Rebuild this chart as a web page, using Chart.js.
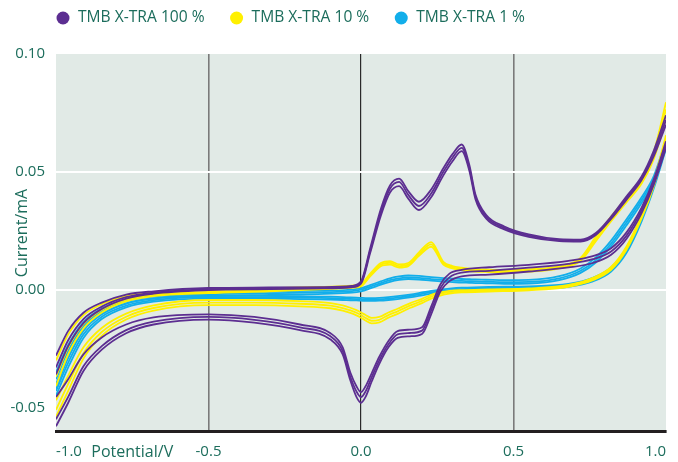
<!DOCTYPE html>
<html>
<head>
<meta charset="utf-8">
<script src="https://cdn.jsdelivr.net/npm/chart.js@4.4.1/dist/chart.umd.min.js"></script>
<style>
  html, body { margin: 0; padding: 0; background: #ffffff; }
  #wrap { width: 678px; height: 462px; }
</style>
</head>
<body>
<div id="wrap"><canvas id="cv" width="678" height="462"></canvas></div>
<script>
// ================= DATA =================
const seriesNames = ["TMB X-TRA 100 %", "TMB X-TRA 10 %", "TMB X-TRA 1 %"];
const seriesColors = ["#5c2e91", "#fff000", "#12aeea"];

const xTicks = [-1.0, -0.5, 0.0, 0.5, 1.0];
const yTicks = [-0.05, 0.0, 0.05, 0.10];

// potential (V) for the forward / anodic branch and the return / cathodic branch
const potentialUp = [-1.0, -0.96, -0.91, -0.85, -0.77, -0.68, -0.5, -0.3, -0.12, -0.03,
  0.0, 0.03, 0.065, 0.095, 0.125, 0.155, 0.19, 0.23, 0.27, 0.3,
  0.33, 0.355, 0.375, 0.41, 0.47, 0.55, 0.65, 0.72, 0.77, 0.82,
  0.87, 0.92, 0.96, 1.0];
const potentialDown = [-1.0, -0.96, -0.91, -0.85, -0.77, -0.68, -0.5, -0.35, -0.2, -0.1,
  -0.06, -0.035, -0.015, 0.0, 0.015, 0.035, 0.06, 0.09, 0.12, 0.16,
  0.2, 0.23, 0.26, 0.29, 0.33, 0.42, 0.55, 0.68, 0.76, 0.82,
  0.87, 0.92, 0.96, 1.0];

// current (mA), three cycles each
const tmb100Up = [
  [-0.028, -0.0175, -0.0098, -0.0055, -0.0021, -0.0007, 0.0007, 0.0009, 0.0011, 0.0016,
   0.0035, 0.0175, 0.0342, 0.0442, 0.0471, 0.0418, 0.0373, 0.0425, 0.0515, 0.0575,
   0.0616, 0.0530, 0.0405, 0.0318, 0.0268, 0.0234, 0.0214, 0.0212, 0.0240, 0.0310,
   0.0395, 0.0480, 0.0590, 0.0740],
  [-0.033, -0.0215, -0.0125, -0.0072, -0.0032, -0.0013, 0.0002, 0.0005, 0.0008, 0.0013,
   0.0030, 0.0165, 0.0328, 0.0428, 0.0457, 0.0402, 0.0355, 0.0408, 0.0500, 0.0560,
   0.0602, 0.0518, 0.0395, 0.0310, 0.0262, 0.0229, 0.0210, 0.0208, 0.0236, 0.0305,
   0.0388, 0.0472, 0.0578, 0.0720],
  [-0.036, -0.0240, -0.0142, -0.0082, -0.0038, -0.0017, -0.0002, 0.0002, 0.0005, 0.0010,
   0.0025, 0.0155, 0.0314, 0.0412, 0.0439, 0.0386, 0.0338, 0.0392, 0.0485, 0.0545,
   0.0588, 0.0506, 0.0385, 0.0302, 0.0256, 0.0224, 0.0206, 0.0204, 0.0232, 0.0300,
   0.0381, 0.0465, 0.0566, 0.0700]
];
const tmb100Down = [
  [-0.0456, -0.038, -0.0275, -0.0203, -0.0148, -0.0118, -0.0105, -0.0116, -0.0148, -0.0185,
   -0.0245, -0.0352, -0.041, -0.0435, -0.041, -0.0355, -0.0285, -0.0218, -0.0176, -0.0170,
   -0.0160, -0.0072, 0.0022, 0.0068, 0.0084, 0.0095, 0.0105, 0.0122, 0.0142, 0.0176,
   0.0242, 0.0348, 0.0468, 0.0630],
  [-0.055, -0.0455, -0.0325, -0.0240, -0.0172, -0.0136, -0.0116, -0.0128, -0.0160, -0.0198,
   -0.0260, -0.0370, -0.0432, -0.0456, -0.0432, -0.0372, -0.0300, -0.0232, -0.0190, -0.0184,
   -0.0174, -0.0088, 0.0006, 0.0052, 0.0072, 0.0080, 0.0093, 0.0109, 0.0129, 0.0162,
   0.0228, 0.0336, 0.0455, 0.0615],
  [-0.058, -0.048, -0.0345, -0.0255, -0.0185, -0.0148, -0.0127, -0.0140, -0.0172, -0.0212,
   -0.0275, -0.0385, -0.0455, -0.0480, -0.0455, -0.0390, -0.0315, -0.0245, -0.0205, -0.0198,
   -0.0188, -0.0105, -0.0008, 0.0036, 0.0056, 0.0064, 0.0077, 0.0094, 0.0113, 0.0148,
   0.0215, 0.0325, 0.0445, 0.0600]
];
const tmb10Up = [
  [-0.030, -0.019, -0.0108, -0.0062, -0.0028, -0.0012, -0.0002, 0.0006, 0.0012, 0.0017,
   0.0024, 0.0068, 0.0113, 0.0121, 0.0107, 0.0113, 0.0158, 0.0202, 0.0118, 0.0100,
   0.0093, 0.0089, 0.0087, 0.0085, 0.0083, 0.0086, 0.0100, 0.0135, 0.0225, 0.0310,
   0.0390, 0.0470, 0.0585, 0.0795],
  [-0.037, -0.0245, -0.0145, -0.0085, -0.0042, -0.0022, -0.0010, -0.0002, 0.0006, 0.0012,
   0.0019, 0.0062, 0.0106, 0.0114, 0.0100, 0.0106, 0.0150, 0.0192, 0.0112, 0.0095,
   0.0088, 0.0084, 0.0082, 0.0080, 0.0078, 0.0081, 0.0095, 0.0128, 0.0215, 0.0300,
   0.0380, 0.0460, 0.0570, 0.0765],
  [-0.041, -0.0275, -0.0165, -0.0097, -0.0050, -0.0028, -0.0015, -0.0007, 0.0002, 0.0008,
   0.0014, 0.0056, 0.0099, 0.0106, 0.0094, 0.0100, 0.0143, 0.0182, 0.0106, 0.0090,
   0.0083, 0.0079, 0.0077, 0.0075, 0.0073, 0.0076, 0.0090, 0.0122, 0.0206, 0.0290,
   0.0370, 0.0450, 0.0555, 0.0725]
];
const tmb10Down = [
  [-0.047, -0.0365, -0.0245, -0.0163, -0.0102, -0.0067, -0.0044, -0.0044, -0.0049, -0.0057,
   -0.0067, -0.0077, -0.0087, -0.0097, -0.0108, -0.0120, -0.0116, -0.0097, -0.0081, -0.0058,
   -0.0039, -0.0022, -0.0011, -0.0005, -0.0002, 0.0001, 0.0005, 0.0020, 0.0050, 0.0096,
   0.0182, 0.0318, 0.0460, 0.0655],
  [-0.051, -0.0400, -0.0270, -0.0180, -0.0115, -0.0078, -0.0055, -0.0055, -0.0060, -0.0068,
   -0.0078, -0.0088, -0.0098, -0.0108, -0.0120, -0.0132, -0.0128, -0.0108, -0.0092, -0.0068,
   -0.0048, -0.0030, -0.0018, -0.0011, -0.0007, -0.0004, 0.0001, 0.0016, 0.0045, 0.0090,
   0.0175, 0.0310, 0.0450, 0.0640],
  [-0.054, -0.0430, -0.0292, -0.0196, -0.0127, -0.0089, -0.0066, -0.0066, -0.0071, -0.0079,
   -0.0089, -0.0099, -0.0109, -0.0119, -0.0131, -0.0143, -0.0139, -0.0119, -0.0103, -0.0078,
   -0.0057, -0.0038, -0.0025, -0.0017, -0.0012, -0.0008, -0.0003, 0.0012, 0.0040, 0.0084,
   0.0168, 0.0302, 0.0440, 0.0625]
];
const tmb1Up = [
  [-0.035, -0.0235, -0.0138, -0.0080, -0.0042, -0.0023, -0.0013, -0.0008, -0.0004, 0.0000,
   0.0006, 0.0019, 0.0035, 0.0048, 0.0056, 0.0060, 0.0058, 0.0053, 0.0049, 0.0047,
   0.0045, 0.0044, 0.0043, 0.0042, 0.0040, 0.0041, 0.0057, 0.0090, 0.0137, 0.0208,
   0.0298, 0.0392, 0.0482, 0.0635],
  [-0.038, -0.0260, -0.0155, -0.0092, -0.0050, -0.0030, -0.0020, -0.0015, -0.0011, -0.0006,
   0.0000, 0.0012, 0.0028, 0.0040, 0.0048, 0.0052, 0.0050, 0.0045, 0.0041, 0.0039,
   0.0037, 0.0036, 0.0035, 0.0034, 0.0032, 0.0033, 0.0048, 0.0080, 0.0125, 0.0195,
   0.0285, 0.0380, 0.0470, 0.0620],
  [-0.042, -0.0290, -0.0175, -0.0105, -0.0058, -0.0037, -0.0027, -0.0022, -0.0018, -0.0013,
   -0.0007, 0.0005, 0.0021, 0.0033, 0.0041, 0.0045, 0.0043, 0.0038, 0.0034, 0.0032,
   0.0030, 0.0029, 0.0028, 0.0027, 0.0025, 0.0026, 0.0040, 0.0071, 0.0115, 0.0184,
   0.0272, 0.0368, 0.0458, 0.0605]
];
const tmb1Down = [
  [-0.040, -0.0285, -0.0172, -0.0103, -0.0059, -0.0038, -0.0026, -0.0026, -0.0028, -0.0030,
   -0.0032, -0.0033, -0.0034, -0.0035, -0.0036, -0.0036, -0.0035, -0.0032, -0.0028, -0.0021,
   -0.0012, -0.0005, 0.0000, 0.0004, 0.0008, 0.0012, 0.0014, 0.0024, 0.0050, 0.0094,
   0.0176, 0.0312, 0.0452, 0.0625],
  [-0.043, -0.0310, -0.0190, -0.0115, -0.0068, -0.0045, -0.0032, -0.0032, -0.0034, -0.0036,
   -0.0038, -0.0039, -0.0040, -0.0041, -0.0042, -0.0042, -0.0041, -0.0038, -0.0034, -0.0027,
   -0.0018, -0.0011, -0.0006, -0.0002, 0.0002, 0.0007, 0.0009, 0.0018, 0.0042, 0.0085,
   0.0165, 0.0300, 0.0440, 0.0610],
  [-0.045, -0.0330, -0.0205, -0.0125, -0.0075, -0.0051, -0.0038, -0.0038, -0.0040, -0.0042,
   -0.0044, -0.0045, -0.0046, -0.0047, -0.0048, -0.0048, -0.0047, -0.0044, -0.0040, -0.0033,
   -0.0024, -0.0017, -0.0011, -0.0007, -0.0003, 0.0002, 0.0004, 0.0012, 0.0035, 0.0077,
   0.0155, 0.0290, 0.0430, 0.0598]
];

// ================= STYLE =================
const TEXT = "#1c6d5c";
const FONT = '"Open Sans", sans-serif';

// ================= DATASETS =================
const seriesUp = [tmb100Up, tmb10Up, tmb1Up];
const seriesDown = [tmb100Down, tmb10Down, tmb1Down];
const datasets = [];

seriesNames.forEach((name, s) => {
  [[potentialUp, seriesUp[s]], [potentialDown, seriesDown[s]]].forEach(([pot, cycles]) => {
    cycles.forEach(cyc => {
      datasets.push({
        label: name,
        data: pot.map((v, i) => ({ x: v, y: cyc[i] })),
        borderColor: seriesColors[s],
        borderWidth: 1.8,
        pointRadius: 0,
        cubicInterpolationMode: "monotone",
        fill: false
      });
    });
  });
});

// ================= PLUGINS =================
const plotBg = {
  id: "plotBg",
  beforeDraw(chart) {
    const { ctx, chartArea: a } = chart;
    ctx.save();
    ctx.fillStyle = "#e1eae6";
    ctx.fillRect(a.left, a.top, a.right - a.left, a.bottom - a.top);
    ctx.restore();
  }
};

// legend dots + axis titles
const extraText = {
  id: "extraText",
  afterDraw(chart) {
    const ctx = chart.ctx;
    const xs = chart.scales.x;
    ctx.save();
    ctx.font = "15.6px " + FONT;
    ctx.textBaseline = "middle";
    ctx.textAlign = "left";
    let cx = 63;
    seriesNames.forEach((name, i) => {
      ctx.fillStyle = seriesColors[i];
      ctx.beginPath();
      ctx.arc(cx, 18, 6.5, 0, Math.PI * 2);
      ctx.fill();
      ctx.fillStyle = TEXT;
      ctx.fillText(name, cx + 15, 18);
      cx += 15 + ctx.measureText(name).width + 32;
    });

    ctx.font = "16px " + FONT;
    ctx.fillStyle = TEXT;
    ctx.textAlign = "center";
    const midX = (xs.getPixelForValue(-1) + xs.getPixelForValue(-0.5)) / 2;
    ctx.fillText("Potential/V", midX, 452);

    ctx.translate(22, 233);
    ctx.rotate(-Math.PI / 2);
    ctx.fillText("Current/mA", 0, 0);
    ctx.restore();
  }
};

// ================= CHART =================
new Chart(document.getElementById("cv"), {
  type: "line",
  data: { datasets: datasets },
  options: {
    responsive: false,
    animation: false,
    layout: { padding: { top: 54, right: 8, left: 0, bottom: 0 } },
    plugins: {
      legend: { display: false },
      tooltip: { enabled: false }
    },
    scales: {
      x: {
        type: "linear",
        min: -1,
        max: 1,
        afterFit(s) { s.height = 31; },
        afterBuildTicks(s) { s.ticks = xTicks.map(v => ({ value: v })); },
        border: { color: "#231f20", width: 3 },
        grid: {
          drawTicks: false,
          color: c => {
            if (!c.tick) return "rgba(0,0,0,0)";
            if (c.tick.value === 0) return "#2a2a2a";
            if (Math.abs(c.tick.value) === 0.5) return "#7a7a7a";
            return "rgba(0,0,0,0)";
          },
          lineWidth: c => (c.tick && c.tick.value === 0) ? 1.2 : 1.6
        },
        ticks: {
          align: "inner",
          padding: 12,
          color: TEXT,
          font: { family: FONT, size: 15 },
          callback: v => Number(v).toFixed(1)
        }
      },
      y: {
        min: -0.06,
        max: 0.10,
        afterFit(s) { s.width = 56; },
        afterBuildTicks(s) { s.ticks = yTicks.map(v => ({ value: v })); },
        border: { display: false },
        grid: {
          drawTicks: false,
          color: c => (c.tick && (c.tick.value === 0 || c.tick.value === 0.05)) ? "#ffffff" : "rgba(0,0,0,0)",
          lineWidth: 2
        },
        ticks: {
          padding: 11,
          color: TEXT,
          font: { family: FONT, size: 15 },
          callback: v => Number(v).toFixed(2)
        }
      }
    }
  },
  plugins: [plotBg, extraText]
});
</script>
</body>
</html>
